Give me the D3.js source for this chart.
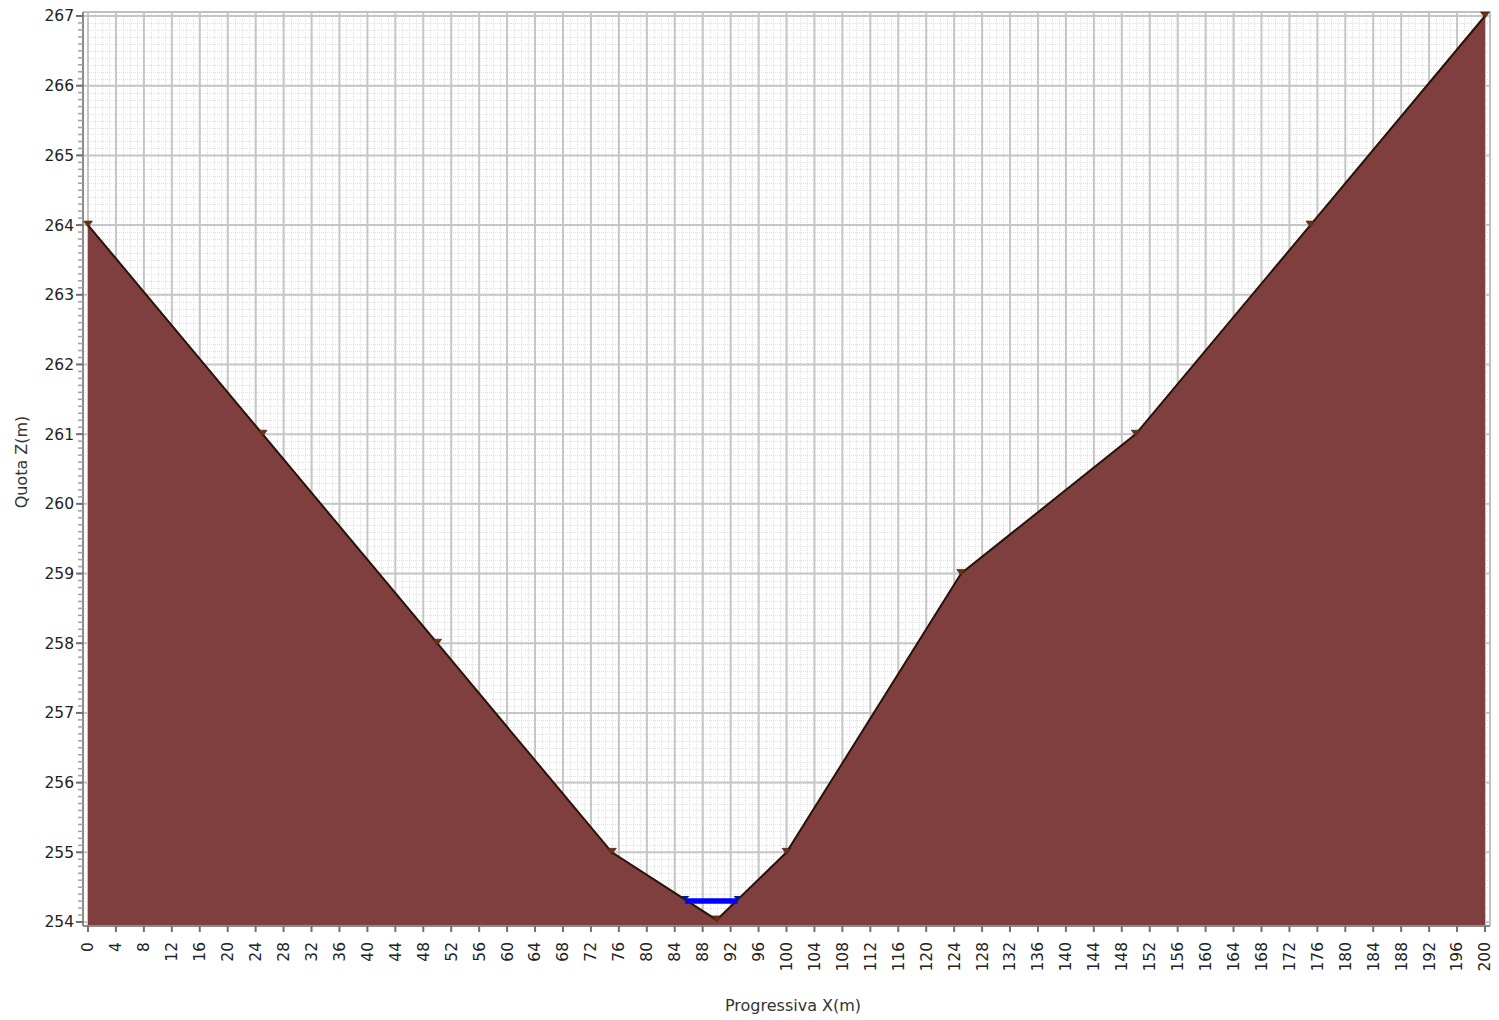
<!DOCTYPE html>
<html>
<head>
<meta charset="utf-8">
<script src="https://cdn.jsdelivr.net/npm/d3@7"></script>
<style>
  html, body { margin: 0; padding: 0; background: #ffffff; }
  svg { display: block; font-family: Tahoma, "DejaVu Sans", Verdana, sans-serif; }
</style>
</head>
<body>
<svg id="chart" width="1499" height="1020"></svg>
<script>
// Cross-section profile: progressive distance (m) vs. ground elevation (m)
const progressiva = [0, 25, 50, 75, 90, 100, 125, 150, 175, 200];
const quota       = [264, 261, 258, 255, 254.03, 255, 259, 261, 264, 267];

// Water surface in the channel: level and its two shore points
const waterLevel = 254.3;
const waterX = [85.5, 93];

// Axis tick values
const xTicks = d3.range(0, 201, 4);
const yTicks = d3.range(254, 268, 1);
const yMinorTicks = d3.range(254, 267.001, 0.1);
const xMinorGrid = d3.range(0, 201, 1);

const svg = d3.select("#chart");

// Plot frame and data range in pixels
const frame = { left: 83, right: 1490, top: 12, bottom: 926 };
const x = d3.scaleLinear().domain([0, 200]).range([88, 1485]);
const y = d3.scaleLinear().domain([254, 267]).range([922, 16]);

// Plot background
svg.append("rect")
  .attr("x", frame.left).attr("y", frame.top)
  .attr("width", frame.right - frame.left).attr("height", frame.bottom - frame.top)
  .attr("fill", "#ffffff");

// Minor grid (faint dotted)
const minor = svg.append("g").attr("stroke", "#e0e0e0").attr("stroke-width", 1)
  .attr("stroke-dasharray", "1,1");
minor.selectAll("line.hm").data(yMinorTicks).join("line")
  .attr("x1", frame.left).attr("x2", frame.right)
  .attr("y1", d => Math.round(y(d)) + 0.5).attr("y2", d => Math.round(y(d)) + 0.5);
minor.selectAll("line.vm").data(xMinorGrid).join("line")
  .attr("y1", frame.top).attr("y2", frame.bottom)
  .attr("x1", d => Math.round(x(d)) + 0.5).attr("x2", d => Math.round(x(d)) + 0.5);

// Major grid
const major = svg.append("g").attr("stroke", "#c6c6c6").attr("stroke-width", 2);
major.selectAll("line.h").data(yTicks).join("line")
  .attr("x1", frame.left).attr("x2", frame.right)
  .attr("y1", d => y(d)).attr("y2", d => y(d));
major.selectAll("line.v").data(xTicks).join("line")
  .attr("y1", frame.top).attr("y2", frame.bottom)
  .attr("x1", d => x(d)).attr("x2", d => x(d));

// Frame border (top and right)
svg.append("path")
  .attr("d", `M${frame.left},${frame.top}H${frame.right}V${frame.bottom}`)
  .attr("fill", "none").attr("stroke", "#c0c0c0").attr("stroke-width", 2);

// Ground section filled down to the bottom of the plot
const pts = progressiva.map((p, i) => [p, quota[i]]);
const area = d3.area()
  .x(d => x(d[0]))
  .y0(frame.bottom)
  .y1(d => y(d[1]));
svg.append("path").datum(pts)
  .attr("d", area)
  .attr("fill", "#7f3f3f");

// Ground profile line
const line = d3.line().x(d => x(d[0])).y(d => y(d[1]));
svg.append("path").datum(pts)
  .attr("d", line)
  .attr("fill", "none")
  .attr("stroke", "#2a1208")
  .attr("stroke-width", 2);

// Water surface
svg.append("line")
  .attr("x1", x(waterX[0])).attr("x2", x(waterX[1]))
  .attr("y1", y(waterLevel)).attr("y2", y(waterLevel))
  .attr("stroke", "#0000ff").attr("stroke-width", 5.5);
svg.selectAll("path.wmark").data(waterX).join("path")
  .attr("class", "wmark")
  .attr("transform", d => `translate(${x(d)},${y(waterLevel) - 3})`)
  .attr("d", "M-4,-2L4,-2L0,3Z")
  .attr("fill", "#0a1a7a");

// Survey point markers (downward triangles)
svg.selectAll("path.mark").data(pts).join("path")
  .attr("class", "mark")
  .attr("transform", d => `translate(${x(d[0])},${y(d[1]) - 1})`)
  .attr("d", "M-4.5,-3L4.5,-3L0,3Z")
  .attr("fill", "#6a3214")
  .attr("stroke", "#3a1a0a")
  .attr("stroke-width", 0.6);

// Y axis
const yAxis = svg.append("g");
yAxis.append("line")
  .attr("x1", frame.left).attr("x2", frame.left)
  .attr("y1", frame.top).attr("y2", frame.bottom)
  .attr("stroke", "#8a8a8a").attr("stroke-width", 2);
yAxis.selectAll("line.ymin").data(yMinorTicks).join("line")
  .attr("x1", frame.left - 5).attr("x2", frame.left)
  .attr("y1", d => y(d)).attr("y2", d => y(d))
  .attr("stroke", "#a0a0a0").attr("stroke-width", 1.5);
yAxis.selectAll("line.ymaj").data(yTicks).join("line")
  .attr("x1", frame.left - 7).attr("x2", frame.left)
  .attr("y1", d => y(d)).attr("y2", d => y(d))
  .attr("stroke", "#707070").attr("stroke-width", 2);
yAxis.selectAll("text").data(yTicks).join("text")
  .attr("x", frame.left - 9).attr("y", d => y(d))
  .attr("dy", "0.35em")
  .attr("text-anchor", "end")
  .attr("font-size", 15.5)
  .attr("fill", "#222")
  .text(d => d3.format("d")(d));

// X axis
const xAxis = svg.append("g");
xAxis.append("line")
  .attr("x1", frame.left).attr("x2", frame.right)
  .attr("y1", frame.bottom).attr("y2", frame.bottom)
  .attr("stroke", "#8a8a8a").attr("stroke-width", 2);
xAxis.selectAll("line.xt").data(xTicks).join("line")
  .attr("x1", d => x(d)).attr("x2", d => x(d))
  .attr("y1", frame.bottom).attr("y2", frame.bottom + 6)
  .attr("stroke", "#707070").attr("stroke-width", 2);
xAxis.selectAll("text").data(xTicks).join("text")
  .attr("transform", d => `translate(${x(d)},${frame.bottom + 16}) rotate(-90)`)
  .attr("dy", "0.35em")
  .attr("text-anchor", "end")
  .attr("font-size", 15.5)
  .attr("fill", "#222")
  .text(d => d3.format("d")(d));

// Axis titles
svg.append("text")
  .attr("x", 793).attr("y", 1011)
  .attr("text-anchor", "middle")
  .attr("font-size", 16)
  .attr("fill", "#333")
  .text("Progressiva X(m)");
svg.append("text")
  .attr("transform", "translate(27,462) rotate(-90)")
  .attr("text-anchor", "middle")
  .attr("font-size", 16)
  .attr("fill", "#333")
  .text("Quota Z(m)");
</script>
</body>
</html>
